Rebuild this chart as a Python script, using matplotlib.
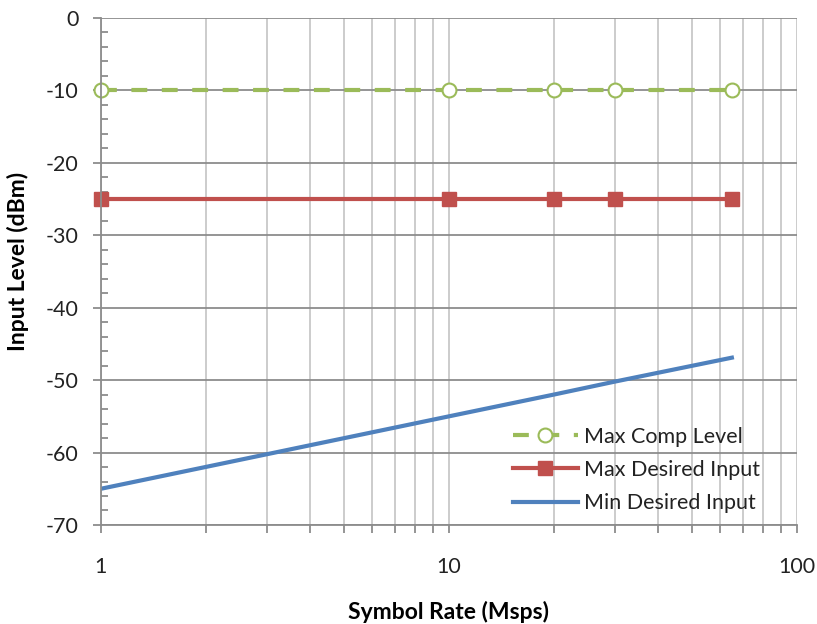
import numpy as np
import matplotlib
matplotlib.use('Agg')
import matplotlib.pyplot as plt
from matplotlib.ticker import LogLocator, NullFormatter

plt.rcParams['font.family'] = ['Lato', 'DejaVu Sans']
plt.rcParams['axes.unicode_minus'] = False

# data
rate = [1, 10, 20, 30, 65]
max_comp = [-10, -10, -10, -10, -10]
max_desired = [-25, -25, -25, -25, -25]
min_desired = [-65, -55, -52, -50.2, -46.9]

green = '#9BBB59'
red = '#C0504D'
blue = '#4F81BD'

fig = plt.figure(figsize=(8.17, 6.24), dpi=100)
ax = fig.add_axes([0.1236, 0.1587, 0.8519, 0.8125])

ax.set_xscale('log')
ax.set_xlim(1, 100)
ax.set_ylim(-70, 0)

# grid: light vertical, darker horizontal
ax.xaxis.set_minor_locator(LogLocator(base=10, subs=np.arange(2, 10)))
ax.xaxis.set_minor_formatter(NullFormatter())
ax.grid(True, which='both', axis='x', color='#c8c8c8', lw=1.3)
ax.grid(True, which='major', axis='y', color='#8c8c8c', lw=1.3)
ax.set_axisbelow(True)

ax.plot(rate, max_comp, color=green, lw=3, dashes=(3.8, 3.5), clip_on=False,
        marker='o', ms=10, mfc='white', mec=green, mew=1.5, label='Max Comp Level')
ax.plot(rate, max_desired, color=red, lw=3, clip_on=False,
        marker='s', ms=10, mfc=red, mec=red, label='Max Desired Input')
ax.plot(rate, min_desired, color=blue, lw=3, label='Min Desired Input')

ax.set_yticks(np.arange(-70, 1, 10))
ax.set_yticks(np.arange(-70, 0, 2), minor=True)
ax.set_xticks([1, 10, 100])
ax.set_xticklabels(['1', '10', '100'])

for s in ['top', 'right']:
    ax.spines[s].set_visible(False)
for s in ['left', 'bottom']:
    ax.spines[s].set_color('#8c8c8c')
    ax.spines[s].set_linewidth(1.3)

ax.tick_params(axis='y', which='major', direction='out', length=6, color='#8c8c8c',
               width=1.3, labelsize=15.5, pad=10, labelcolor='#222222')
ax.tick_params(axis='y', which='minor', direction='in', length=5, color='#8c8c8c', width=1.3)
ax.tick_params(axis='x', which='both', direction='out', length=6, color='#8c8c8c',
               width=1.3, labelsize=15.5, pad=17, labelcolor='#222222')

ax.set_xlabel('Symbol Rate (Msps)', fontsize=16.5, fontweight='bold')
ax.set_ylabel('Input Level (dBm)', fontsize=16.5, fontweight='bold')
ax.xaxis.set_label_coords(0.5, -0.172)
ax.xaxis.label.set_va('center')
ax.yaxis.set_label_coords(-0.119, 0.52)
ax.yaxis.label.set_va('center')

leg = ax.legend(loc='lower right', bbox_to_anchor=(0.975, -0.015), frameon=False,
                fontsize=15.5, handlelength=3.0, handletextpad=0.3, labelspacing=0.62)
for t in leg.get_texts():
    t.set_color('#222222')

fig.savefig('out.png', dpi=100)
